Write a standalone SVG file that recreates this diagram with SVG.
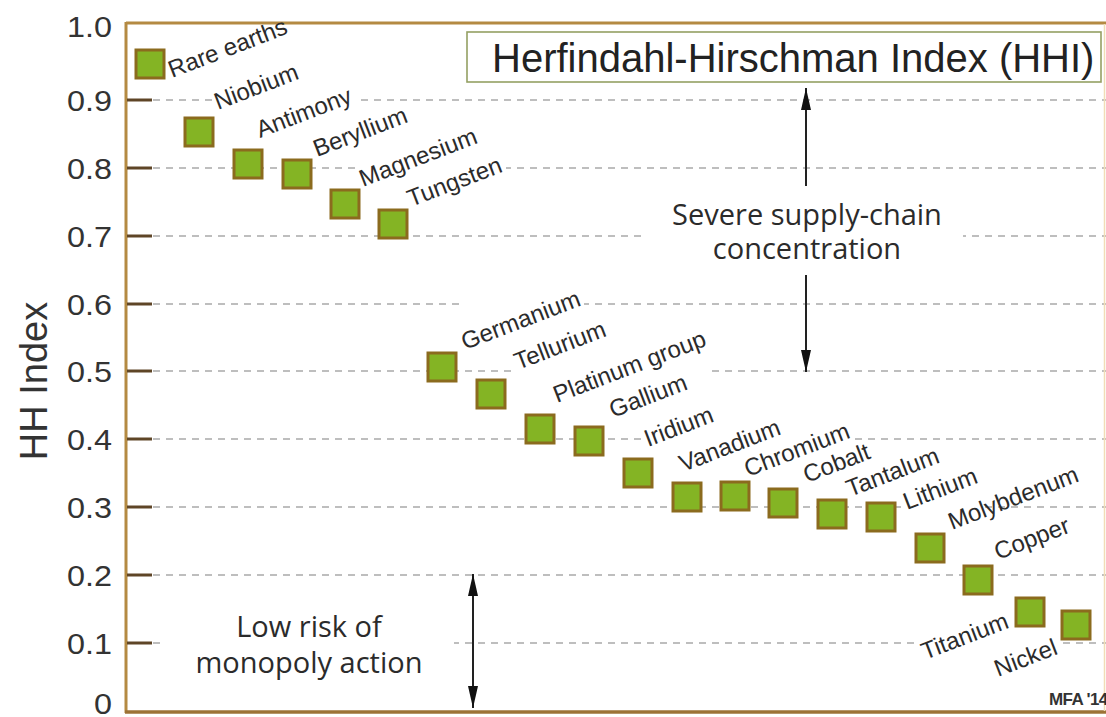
<svg xmlns="http://www.w3.org/2000/svg" width="1106" height="717" viewBox="0 0 1106 717">
  <defs>
    <style>
      .num { font-family: "Liberation Sans", Arial, sans-serif; font-size: 29px; fill: #333; text-anchor: end; }
      .axis-title { font-family: "Liberation Sans", Arial, sans-serif; font-size: 38px; fill: #333; text-anchor: middle; }
      .lbl { font-family: "Liberation Sans", Arial, sans-serif; font-size: 24px; fill: #2b2b2b; }
      .note { font-family: "Open Sans", "Noto Sans", sans-serif; font-size: 29px; fill: #2b2b2b; text-anchor: middle; }
      .title { font-family: "Liberation Sans", Arial, sans-serif; font-size: 40px; fill: #222; }
      .credit { font-family: "Liberation Sans", Arial, sans-serif; font-size: 17px; fill: #333; font-weight: bold; letter-spacing: -0.6px; }
      .grid { stroke: #a9a9a9; stroke-width: 1.3; stroke-dasharray: 7 6; fill: none; }
      .tick { stroke: #5e4526; stroke-width: 3; }
      .frame { stroke: #b48a42; stroke-width: 3; fill: none; }
      .ko { fill: #fff; }
      .pt { fill: #84b424; stroke: #8b6b1e; stroke-width: 3; }
      .arrow { stroke: #222; stroke-width: 2; fill: none; }
    </style>
    <marker id="head" viewBox="0 0 22 10" refX="22" refY="5" markerWidth="22" markerHeight="10" markerUnits="userSpaceOnUse" orient="auto-start-reverse">
      <path d="M0,0 L22,5 L0,10 z" fill="#111"/>
    </marker>
  </defs>

  <rect width="1106" height="717" fill="#fff"/>

  <!-- dashed grid at 0.1 .. 0.9 -->
  <g id="grid" class="grid">
    <line x1="153" y1="643" x2="1106" y2="643"/>
    <line x1="153" y1="575" x2="1106" y2="575"/>
    <line x1="153" y1="507" x2="1106" y2="507"/>
    <line x1="153" y1="439" x2="1106" y2="439"/>
    <line x1="153" y1="371" x2="1106" y2="371"/>
    <line x1="153" y1="304" x2="1106" y2="304"/>
    <line x1="153" y1="236" x2="1106" y2="236"/>
    <line x1="153" y1="168" x2="1106" y2="168"/>
    <line x1="153" y1="100" x2="1106" y2="100"/>
  </g>

  <!-- white boxes behind the labels so the grid breaks around them -->
  <g id="label-backs" class="ko">
    <rect x="166" y="17" width="125" height="66"/>
    <rect x="212" y="62" width="90" height="52"/>
    <rect x="254" y="86" width="101" height="57"/>
    <rect x="311" y="105" width="100" height="56"/>
    <rect x="357" y="126" width="124" height="65"/>
    <rect x="405" y="155" width="101" height="57"/>
    <rect x="459" y="289" width="125" height="66"/>
    <rect x="512" y="318" width="100" height="56"/>
    <rect x="551" y="329" width="159" height="79"/>
    <rect x="607" y="372" width="84" height="50"/>
    <rect x="642" y="405" width="75" height="47"/>
    <rect x="677" y="417" width="109" height="60"/>
    <rect x="742" y="421" width="111" height="61"/>
    <rect x="801" y="442" width="73" height="46"/>
    <rect x="844" y="445" width="101" height="57"/>
    <rect x="901" y="466" width="80" height="49"/>
    <rect x="992" y="515" width="82" height="49"/>
    <rect x="919" y="611" width="94" height="54"/>
    <rect x="992" y="637" width="69" height="44"/>
    <rect x="647" y="198" width="316" height="70"/>
    <rect x="160" y="610" width="294" height="75"/>
  </g>

  <!-- axes -->
  <g id="axes">
    <line class="frame" x1="126" y1="23" x2="1106" y2="23"/>
    <line class="frame" x1="126" y1="22" x2="126" y2="713"/>
    <line x1="125" y1="712" x2="1106" y2="712" stroke="#9c7236" stroke-width="3.5"/>
    <line x1="1104.5" y1="24" x2="1104.5" y2="711" stroke="#f1ddb6" stroke-width="1.5"/>
    <g class="tick">
      <line x1="127" y1="643" x2="152" y2="643"/>
      <line x1="127" y1="575" x2="152" y2="575"/>
      <line x1="127" y1="507" x2="152" y2="507"/>
      <line x1="127" y1="439" x2="152" y2="439"/>
      <line x1="127" y1="371" x2="152" y2="371"/>
      <line x1="127" y1="304" x2="152" y2="304"/>
      <line x1="127" y1="236" x2="152" y2="236"/>
      <line x1="127" y1="168" x2="152" y2="168"/>
      <line x1="127" y1="100" x2="152" y2="100"/>
    </g>
    <g id="y-values">
      <text class="num" x="112" y="37" textLength="45" lengthAdjust="spacingAndGlyphs">1.0</text>
      <text class="num" x="112" y="110.5" textLength="45" lengthAdjust="spacingAndGlyphs">0.9</text>
      <text class="num" x="112" y="178.5" textLength="45" lengthAdjust="spacingAndGlyphs">0.8</text>
      <text class="num" x="112" y="246.5" textLength="45" lengthAdjust="spacingAndGlyphs">0.7</text>
      <text class="num" x="112" y="314.5" textLength="45" lengthAdjust="spacingAndGlyphs">0.6</text>
      <text class="num" x="112" y="381.5" textLength="45" lengthAdjust="spacingAndGlyphs">0.5</text>
      <text class="num" x="112" y="449.5" textLength="45" lengthAdjust="spacingAndGlyphs">0.4</text>
      <text class="num" x="112" y="517.5" textLength="45" lengthAdjust="spacingAndGlyphs">0.3</text>
      <text class="num" x="112" y="585.5" textLength="45" lengthAdjust="spacingAndGlyphs">0.2</text>
      <text class="num" x="112" y="653.5" textLength="45" lengthAdjust="spacingAndGlyphs">0.1</text>
      <text class="num" x="112" y="714" textLength="18" lengthAdjust="spacingAndGlyphs">0</text>
    </g>
    <text class="axis-title" transform="translate(47 381) rotate(-90)">HH Index</text>
  </g>

  <!-- title box -->
  <g id="title">
    <rect x="467" y="32" width="634" height="50" fill="#fff" stroke="#94a063" stroke-width="1.6"/>
    <text class="title" x="492" y="72">Herfindahl-Hirschman Index (HHI)</text>
  </g>

  <!-- range arrows -->
  <g id="connectors" class="arrow">
    <line x1="806" y1="186" x2="806" y2="88" marker-end="url(#head)"/>
    <line x1="806" y1="275" x2="806" y2="372" marker-end="url(#head)"/>
    <line x1="473" y1="574" x2="473" y2="708" marker-start="url(#head)" marker-end="url(#head)"/>
  </g>

  <g id="note-severe">
    <text class="note" x="807" y="225">Severe supply-chain</text>
    <text class="note" x="807" y="259">concentration</text>
  </g>
  <g id="note-low">
    <text class="note" x="309" y="637">Low risk of</text>
    <text class="note" x="309" y="673">monopoly action</text>
  </g>

  <!-- data points, one group per element -->
  <g id="rare-earths"><rect class="pt" x="136" y="50" width="28" height="28"/><text class="lbl" transform="translate(172 78) rotate(-21)">Rare earths</text></g>
  <g id="niobium"><rect class="pt" x="185" y="118" width="28" height="28"/><text class="lbl" transform="translate(218 110) rotate(-21)">Niobium</text></g>
  <g id="antimony"><rect class="pt" x="234" y="150" width="28" height="28"/><text class="lbl" transform="translate(260 138) rotate(-21)">Antimony</text></g>
  <g id="beryllium"><rect class="pt" x="283" y="160" width="28" height="28"/><text class="lbl" transform="translate(317 157) rotate(-21)">Beryllium</text></g>
  <g id="magnesium"><rect class="pt" x="331" y="190" width="28" height="28"/><text class="lbl" transform="translate(363 187) rotate(-21)">Magnesium</text></g>
  <g id="tungsten"><rect class="pt" x="379" y="210" width="28" height="28"/><text class="lbl" transform="translate(411 207) rotate(-21)">Tungsten</text></g>
  <g id="germanium"><rect class="pt" x="428" y="353" width="28" height="28"/><text class="lbl" transform="translate(465 350) rotate(-21)">Germanium</text></g>
  <g id="tellurium"><rect class="pt" x="477" y="380" width="28" height="28"/><text class="lbl" transform="translate(518 370) rotate(-21)">Tellurium</text></g>
  <g id="platinum-group"><rect class="pt" x="526" y="415" width="28" height="28"/><text class="lbl" transform="translate(557 403) rotate(-21)">Platinum group</text></g>
  <g id="gallium"><rect class="pt" x="575" y="427" width="28" height="28"/><text class="lbl" transform="translate(613 418) rotate(-21)">Gallium</text></g>
  <g id="iridium"><rect class="pt" x="624" y="459" width="28" height="28"/><text class="lbl" transform="translate(648 447) rotate(-21)">Iridium</text></g>
  <g id="vanadium"><rect class="pt" x="673" y="483" width="28" height="28"/><text class="lbl" transform="translate(683 472) rotate(-21)">Vanadium</text></g>
  <g id="chromium"><rect class="pt" x="721" y="482" width="28" height="28"/><text class="lbl" transform="translate(748 477) rotate(-21)">Chromium</text></g>
  <g id="cobalt"><rect class="pt" x="769" y="489" width="28" height="28"/><text class="lbl" transform="translate(807 483) rotate(-21)">Cobalt</text></g>
  <g id="tantalum"><rect class="pt" x="818" y="500" width="28" height="28"/><text class="lbl" transform="translate(850 497) rotate(-21)">Tantalum</text></g>
  <g id="lithium"><rect class="pt" x="867" y="503" width="28" height="28"/><text class="lbl" transform="translate(907 510) rotate(-21)">Lithium</text></g>
  <g id="molybdenum"><rect class="pt" x="916" y="534" width="28" height="28"/><text class="lbl" transform="translate(952 530) rotate(-21)">Molybdenum</text></g>
  <g id="copper"><rect class="pt" x="964" y="566" width="28" height="28"/><text class="lbl" transform="translate(998 560) rotate(-21)">Copper</text></g>
  <g id="titanium"><rect class="pt" x="1016" y="598" width="28" height="28"/><text class="lbl" transform="translate(925 660) rotate(-21)">Titanium</text></g>
  <g id="nickel"><rect class="pt" x="1062" y="611" width="28" height="28"/><text class="lbl" transform="translate(998 677) rotate(-21)">Nickel</text></g>

  <text class="credit" x="1049" y="705">MFA '14</text>
</svg>
